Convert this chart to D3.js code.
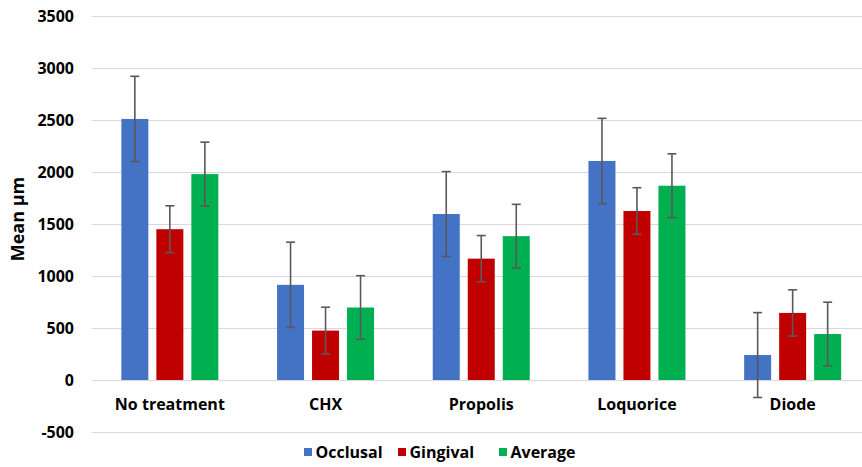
<!DOCTYPE html>
<html>
<head>
<meta charset="utf-8">
<script src="https://cdn.jsdelivr.net/npm/d3@7"></script>
<style>
  html, body { margin: 0; padding: 0; background: #ffffff; }
  svg { display: block; }
  text { font-family: "Open Sans", "Noto Sans", sans-serif; font-weight: bold; fill: #000; }
</style>
</head>
<body>
<svg id="chart" width="862" height="467"></svg>
<script>
const categories = ["No treatment", "CHX", "Propolis", "Loquorice", "Diode"];
const seriesNames = ["Occlusal", "Gingival", "Average"];
const seriesColors = ["#4472C4", "#C00000", "#00B050"];
const occlusal = [2510, 915, 1596, 2106, 240];
const gingival = [1450, 475, 1167, 1625, 645];
const average = [1980, 697, 1383, 1868, 442];
const occlusalErr = [410, 410, 408, 410, 408];
const gingivalErr = [225, 225, 222, 224, 222];
const averageErr = [307, 306, 306, 307, 306];
const yTicks = [-500, 0, 500, 1000, 1500, 2000, 2500, 3000, 3500];
const yLabel = "Mean µm";

const values = [occlusal, gingival, average];
const errors = [occlusalErr, gingivalErr, averageErr];

const svg = d3.select("#chart");
const plot = { left: 92, right: 870.5, top: 16, bottom: 432 };

const y = d3.scaleLinear().domain([-500, 3500]).range([plot.bottom, plot.top]);
const x0 = d3.scaleBand().domain(categories).range([plot.left, plot.right]).padding(0);
const x1 = d3.scaleBand().domain(seriesNames).range([-48.5, 48.5]).paddingInner(8 / 35).paddingOuter(0);

// gridlines
svg.append("g").selectAll("line").data(yTicks).join("line")
  .attr("x1", plot.left).attr("x2", plot.right)
  .attr("y1", d => Math.round(y(d)) + 0.5).attr("y2", d => Math.round(y(d)) + 0.5)
  .attr("stroke", "#d9d9d9").attr("stroke-width", 1.2);

// y tick labels
svg.append("g").selectAll("text").data(yTicks).join("text")
  .attr("x", 74).attr("y", d => y(d)).attr("dy", "0.36em")
  .attr("text-anchor", "end").attr("font-size", 16)
  .text(d => d);

// axis title
svg.append("text")
  .attr("transform", `translate(24, ${219}) rotate(-90)`)
  .attr("text-anchor", "middle").attr("font-size", 18)
  .text(yLabel);

// bars
const rows = [];
categories.forEach((c, ci) => {
  seriesNames.forEach((s, si) => {
    rows.push({ c, s, si, v: values[si][ci], e: errors[si][ci] });
  });
});
const cx = d => x0(d.c) + x0.bandwidth() / 2 + x1(d.s) + x1.bandwidth() / 2;

svg.append("g").selectAll("rect").data(rows).join("rect")
  .attr("x", d => x0(d.c) + x0.bandwidth() / 2 + x1(d.s))
  .attr("width", x1.bandwidth())
  .attr("y", d => y(Math.max(0, d.v)))
  .attr("height", d => Math.abs(y(d.v) - y(0)))
  .attr("fill", d => seriesColors[d.si]);

// error bars
const eg = svg.append("g").attr("stroke", "#595959").attr("stroke-width", 1.6);
eg.selectAll("line.v").data(rows).join("line").attr("class", "v")
  .attr("x1", cx).attr("x2", cx)
  .attr("y1", d => y(d.v + d.e)).attr("y2", d => y(d.v - d.e));
eg.selectAll("line.t").data(rows).join("line").attr("class", "t")
  .attr("x1", d => cx(d) - 4.5).attr("x2", d => cx(d) + 4.5)
  .attr("y1", d => y(d.v + d.e)).attr("y2", d => y(d.v + d.e));
eg.selectAll("line.b").data(rows).join("line").attr("class", "b")
  .attr("x1", d => cx(d) - 4.5).attr("x2", d => cx(d) + 4.5)
  .attr("y1", d => y(d.v - d.e)).attr("y2", d => y(d.v - d.e));

// category labels
svg.append("g").selectAll("text").data(categories).join("text")
  .attr("x", d => x0(d) + x0.bandwidth() / 2)
  .attr("y", 410)
  .attr("text-anchor", "middle").attr("font-size", 16)
  .text(d => d);

// legend
const legendX = [304, 398, 499];
const lg = svg.append("g");
seriesNames.forEach((s, i) => {
  lg.append("rect").attr("x", legendX[i]).attr("y", 448).attr("width", 8).attr("height", 8)
    .attr("fill", seriesColors[i]);
  lg.append("text").attr("x", legendX[i] + 11.5).attr("y", 458)
    .attr("font-size", 16).text(s);
});
</script>
</body>
</html>
